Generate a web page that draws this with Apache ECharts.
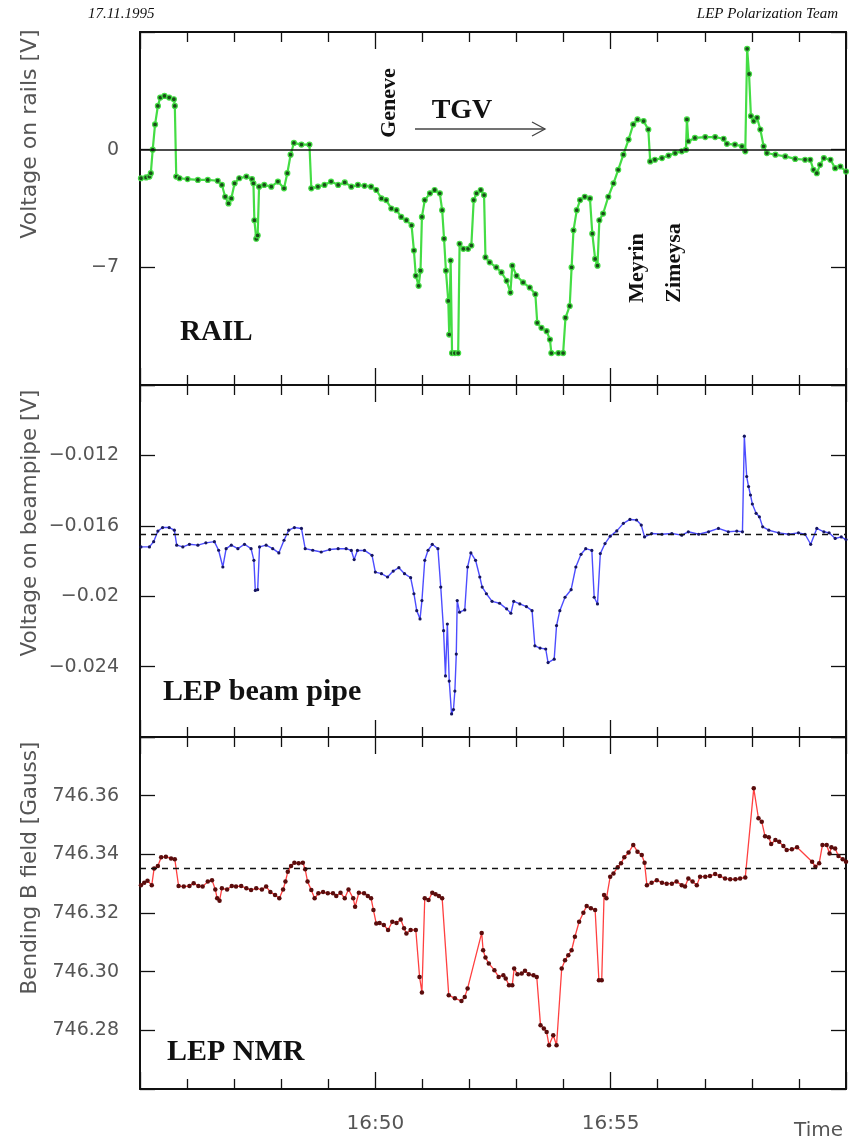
<!DOCTYPE html>
<html><head><meta charset="utf-8">
<script src="https://cdn.jsdelivr.net/npm/echarts@6/dist/echarts.min.js"></script>
<style>html,body{margin:0;padding:0;background:#fff}#chart{width:853px;height:1141px}</style>
</head><body><div id="chart"></div>
<script>
// ---- time axis: minutes after 16:45 ----
const xTickValues = [5, 10];
const xTickLabels = ['16:50', '16:55'];

// ---- panel 1: voltage on rails [V] ----
const railTime = [0.02,0.13,0.20,0.23,0.27,0.32,0.38,0.43,0.52,0.62,
0.72,0.74,0.77,0.84,1.01,1.23,1.44,1.65,1.74,1.81,
1.88,1.94,2.01,2.11,2.26,2.38,2.41,2.43,2.47,2.50,
2.53,2.64,2.79,2.93,3.06,3.13,3.20,3.27,3.43,3.60,
3.64,3.78,3.92,4.06,4.21,4.35,4.49,4.63,4.77,4.91,
5.02,5.13,5.23,5.34,5.45,5.55,5.66,5.77,5.82,5.86,
5.92,5.96,5.99,6.05,6.16,6.26,6.37,6.42,6.46,6.50,
6.55,6.57,6.60,6.63,6.69,6.76,6.79,6.87,6.97,7.04,
7.09,7.15,7.24,7.31,7.34,7.43,7.57,7.68,7.79,7.87,
7.91,8.00,8.14,8.28,8.40,8.44,8.53,8.64,8.71,8.74,
8.89,8.99,9.04,9.13,9.17,9.21,9.28,9.35,9.45,9.56,
9.61,9.67,9.72,9.76,9.84,9.95,10.06,10.16,10.27,10.38,
10.48,10.57,10.70,10.80,10.84,10.94,11.09,11.23,11.37,11.51,
11.60,11.62,11.65,11.79,12.01,12.22,12.40,12.47,12.64,12.79,
12.86,12.90,12.94,12.98,13.04,13.11,13.18,13.25,13.32,13.50,
13.71,13.92,14.13,14.24,14.31,14.38,14.45,14.53,14.67,14.77,
14.88,15.00];
const railVolt = [-1.7,-1.65,-1.6,-1.4,0.0,1.5,2.6,3.1,3.2,3.1,
3.0,2.6,-1.6,-1.7,-1.75,-1.8,-1.8,-1.85,-2.1,-2.8,
-3.2,-2.9,-2.0,-1.7,-1.6,-1.75,-2.0,-4.2,-5.3,-5.1,
-2.2,-2.1,-2.2,-1.9,-2.3,-1.4,-0.3,0.4,0.3,0.3,
-2.3,-2.2,-2.1,-1.9,-2.1,-1.95,-2.2,-2.1,-2.15,-2.2,
-2.4,-2.9,-3.0,-3.5,-3.6,-4.0,-4.2,-4.5,-6.0,-7.5,
-8.1,-7.2,-4.0,-3.0,-2.6,-2.4,-2.6,-3.6,-5.3,-7.2,
-9.0,-11.0,-6.6,-12.1,-12.1,-12.1,-5.6,-5.9,-5.9,-5.7,
-3.0,-2.6,-2.4,-2.7,-6.4,-6.7,-7.0,-7.3,-7.8,-8.5,
-6.9,-7.5,-7.9,-8.2,-8.6,-10.3,-10.6,-10.8,-11.3,-12.1,
-12.1,-12.1,-10.0,-9.3,-7.0,-4.8,-3.6,-3.0,-2.8,-2.9,
-5.0,-6.5,-6.9,-4.2,-3.8,-2.8,-2.0,-1.2,-0.3,0.6,
1.5,1.8,1.7,1.2,-0.7,-0.6,-0.5,-0.35,-0.2,-0.1,
0.0,1.8,0.5,0.7,0.75,0.75,0.65,0.35,0.3,0.2,
-0.1,6.0,4.5,2.0,1.7,1.9,1.2,0.2,-0.2,-0.3,
-0.4,-0.55,-0.6,-0.6,-1.2,-1.4,-0.9,-0.5,-0.6,-1.1,
-1.0,-1.3];
const railYTicks = [-7, 0];
const railYLabels = ['\u22127', '0'];

// ---- panel 2: voltage on beampipe [V] ----
const pipeTime = [0.02,0.20,0.29,0.38,0.48,0.62,0.73,0.78,0.91,1.05,
1.23,1.40,1.58,1.67,1.76,1.83,1.94,2.08,2.22,2.36,
2.42,2.45,2.50,2.54,2.68,2.82,2.95,3.06,3.16,3.28,
3.43,3.51,3.67,3.85,4.03,4.21,4.38,4.49,4.55,4.62,
4.77,4.93,5.00,5.13,5.26,5.38,5.50,5.62,5.75,5.82,
5.88,5.95,5.99,6.05,6.12,6.21,6.33,6.39,6.45,6.49,
6.53,6.57,6.62,6.66,6.69,6.72,6.74,6.79,6.90,6.96,
7.03,7.13,7.22,7.27,7.36,7.48,7.64,7.79,7.88,7.94,
8.07,8.21,8.33,8.39,8.50,8.62,8.67,8.80,8.85,8.92,
9.03,9.16,9.26,9.37,9.47,9.60,9.65,9.72,9.78,9.88,
9.99,10.13,10.27,10.41,10.55,10.65,10.72,10.87,11.09,11.30,
11.51,11.65,11.87,12.08,12.29,12.50,12.68,12.80,12.84,12.89,
12.93,12.97,13.01,13.09,13.16,13.23,13.36,13.57,13.78,13.99,
14.13,14.25,14.38,14.53,14.64,14.77,14.90,15.00];
const pipeVolt = [-0.0172,-0.0172,-0.0169,-0.0163,-0.0161,-0.0161,-0.01625,-0.0171,-0.0172,-0.01705,
-0.0171,-0.01697,-0.0169,-0.01739,-0.01834,-0.0173,-0.0171,-0.0173,-0.01705,-0.0173,
-0.01796,-0.01967,-0.01963,-0.0172,-0.0171,-0.0173,-0.01754,-0.01682,-0.01625,-0.0161,
-0.01615,-0.0173,-0.01739,-0.01749,-0.01735,-0.0173,-0.0173,-0.0174,-0.01792,-0.0174,
-0.0174,-0.01768,-0.01863,-0.01872,-0.01891,-0.01857,-0.01838,-0.01872,-0.01895,-0.01986,
-0.02082,-0.02129,-0.02025,-0.01796,-0.01739,-0.01705,-0.0173,-0.01948,-0.02196,-0.02453,
-0.02158,-0.02482,-0.02669,-0.02644,-0.02539,-0.02329,-0.02025,-0.02091,-0.02078,-0.01834,
-0.01754,-0.01796,-0.01891,-0.01948,-0.01986,-0.02029,-0.0204,-0.02072,-0.02097,-0.02029,
-0.02044,-0.02059,-0.02082,-0.02282,-0.02295,-0.023,-0.02377,-0.02358,-0.02167,-0.02082,
-0.02006,-0.01963,-0.01834,-0.01762,-0.0173,-0.0174,-0.02006,-0.02044,-0.01758,-0.01701,
-0.01659,-0.01629,-0.01586,-0.01564,-0.01567,-0.01596,-0.01663,-0.01644,-0.01648,-0.01644,
-0.01653,-0.01634,-0.01648,-0.01634,-0.01615,-0.01634,-0.0163,-0.01634,-0.01091,-0.0132,
-0.01377,-0.01425,-0.01476,-0.01529,-0.01549,-0.01606,-0.01625,-0.0164,-0.01648,-0.0164,
-0.01648,-0.01705,-0.01615,-0.01634,-0.0164,-0.01672,-0.01663,-0.01678];
const pipeRef = -0.01647;
const pipeYTicks = [-0.024, -0.02, -0.016, -0.012];
const pipeYLabels = ['\u22120.024', '\u22120.02', '\u22120.016', '\u22120.012'];

// ---- panel 3: bending B field [Gauss] ----
const nmrTime = [0.02,0.09,0.16,0.25,0.30,0.38,0.45,0.55,0.66,0.74,
0.82,0.93,1.05,1.14,1.24,1.33,1.44,1.53,1.60,1.64,
1.69,1.74,1.85,1.95,2.04,2.15,2.26,2.36,2.47,2.59,
2.68,2.77,2.87,2.96,3.04,3.09,3.14,3.21,3.28,3.37,
3.46,3.51,3.56,3.64,3.71,3.79,3.89,3.99,4.10,4.17,
4.26,4.35,4.43,4.53,4.57,4.65,4.76,4.84,4.91,4.96,
5.02,5.09,5.18,5.27,5.36,5.45,5.54,5.61,5.66,5.75,
5.86,5.94,5.99,6.05,6.13,6.21,6.28,6.35,6.42,6.56,
6.69,6.83,6.90,6.96,7.26,7.29,7.34,7.41,7.53,7.62,
7.72,7.77,7.84,7.91,7.95,8.02,8.11,8.18,8.26,8.36,
8.43,8.51,8.58,8.64,8.69,8.78,8.85,8.96,9.03,9.10,
9.17,9.24,9.33,9.42,9.49,9.58,9.67,9.75,9.81,9.86,
9.91,9.99,10.06,10.15,10.22,10.29,10.38,10.48,10.57,10.66,
10.72,10.77,10.87,10.98,11.09,11.19,11.30,11.40,11.51,11.58,
11.65,11.74,11.83,11.90,12.01,12.11,12.22,12.32,12.43,12.54,
12.65,12.75,12.86,13.04,13.14,13.21,13.28,13.36,13.41,13.50,
13.58,13.67,13.74,13.85,13.96,14.28,14.35,14.43,14.50,14.59,
14.65,14.69,14.77,14.84,14.93,15.00];
const nmrField = [746.3295,746.3303,746.331,746.3295,746.3352,746.336,746.339,746.3392,746.3386,746.3383,
746.3292,746.329,746.3292,746.3301,746.3292,746.329,746.3307,746.3312,746.328,746.325,
746.3242,746.3284,746.328,746.3292,746.329,746.3292,746.3284,746.3278,746.3284,746.328,
746.329,746.3272,746.3261,746.325,746.328,746.3307,746.3341,746.336,746.3371,746.337,
746.3371,746.3349,746.3307,746.3278,746.325,746.3267,746.3272,746.3267,746.3267,746.3258,
746.3269,746.325,746.328,746.325,746.3221,746.3269,746.3267,746.3258,746.325,746.321,
746.3164,746.3166,746.3159,746.3142,746.317,746.3166,746.3178,746.3148,746.313,746.3142,
746.3142,746.2982,746.2929,746.325,746.3244,746.3269,746.3264,746.3258,746.325,746.292,
746.2909,746.29,746.2914,746.2943,746.3132,746.3073,746.3048,746.3028,746.3005,746.2982,
746.2988,746.2977,746.2954,746.2954,746.3011,746.2991,746.2994,746.3003,746.2991,746.2988,
746.2982,746.2817,746.2806,746.2794,746.2749,746.2783,746.2749,746.3011,746.3039,746.3056,
746.3073,746.3119,746.317,746.3201,746.3224,746.3216,746.321,746.2971,746.2971,746.3261,
746.325,746.3324,746.3335,746.3356,746.337,746.339,746.3406,746.3432,746.3409,746.3398,
746.3371,746.3295,746.3303,746.3312,746.3303,746.33,746.33,746.3307,746.3295,746.329,
746.3318,746.3307,746.3295,746.3324,746.3324,746.3326,746.3333,746.3326,746.3318,746.3315,
746.3315,746.3318,746.3321,746.3625,746.3523,746.3511,746.3462,746.3458,746.3435,746.3449,
746.3443,746.3428,746.3415,746.3417,746.3424,746.3375,746.3358,746.337,746.3432,746.3432,
746.3403,746.3424,746.342,746.3394,746.3383,746.3375];
const nmrRef = 746.3352;
const nmrYTicks = [746.28, 746.30, 746.32, 746.34, 746.36];
const nmrYLabels = ['746.28', '746.30', '746.32', '746.34', '746.36'];

// ---------------------------------------------------------------
const FONT = 'DejaVu Sans';
const SERIF = '"Liberation Serif", "DejaVu Serif", serif';
const INK = '#111';
const GREY = '#555';
const PANELS = [
  {top: 32, height: 353, min: -14, max: 7, interval: 7, ticks: railYTicks, labels: railYLabels},
  {top: 385, height: 352, min: -0.028, max: -0.008, interval: 0.004, ticks: pipeYTicks, labels: pipeYLabels},
  {top: 737, height: 352, min: 746.26, max: 746.38, interval: 0.02, ticks: nmrYTicks, labels: nmrYLabels}
];
const GRID_LEFT = 140, GRID_W = 706;

function lookup(ticks, labels, tol) {
  return function (v) {
    for (let i = 0; i < ticks.length; i++) if (Math.abs(v - ticks[i]) < tol) return labels[i];
    return '';
  };
}

const grid = [], xAxis = [], yAxis = [];
PANELS.forEach((p, gi) => {
  grid.push({left: GRID_LEFT, width: GRID_W, top: p.top, height: p.height, containLabel: false});
  const xBase = {
    type: 'value', gridIndex: gi, min: 0, max: 15, interval: 5,
    axisLine: {show: true, onZero: false, lineStyle: {color: INK, width: 2}},
    axisTick: {show: true, inside: true, length: 17, lineStyle: {color: INK, width: 1.3}},
    minorTick: {show: true, splitNumber: 5, length: 10, lineStyle: {color: INK, width: 1.3}},
    splitLine: {show: false}, minorSplitLine: {show: false}
  };
  xAxis.push(Object.assign({}, xBase, {
    position: 'bottom',
    axisLabel: gi === 2 ? {
      show: true, margin: 25, color: GREY, fontFamily: FONT, fontSize: 20,
      formatter: lookup(xTickValues, xTickLabels, 1e-6)
    } : {show: false}
  }));
  xAxis.push(Object.assign({}, xBase, {position: 'top', axisLabel: {show: false}}));
  const yBase = {
    type: 'value', gridIndex: gi, min: p.min, max: p.max, interval: p.interval,
    axisLine: {show: true, onZero: false, lineStyle: {color: INK, width: 2}},
    axisTick: {show: true, inside: true, length: 15, lineStyle: {color: INK, width: 1.3}},
    splitLine: {show: false}
  };
  yAxis.push(Object.assign({}, yBase, {
    position: 'left',
    axisLabel: {show: true, margin: 21, color: GREY, fontFamily: FONT, fontSize: 19,
      formatter: lookup(p.ticks, p.labels, p.interval * 1e-3)}
  }));
  yAxis.push(Object.assign({}, yBase, {position: 'right', axisLabel: {show: false}}));
});

function zip(a, b) { return a.map((t, i) => [t, b[i]]); }

function refLine(v, dashed) {
  return {
    silent: true, symbol: ['none', 'none'], label: {show: false}, precision: 8,
    lineStyle: {color: INK, width: dashed ? 1.3 : 1.6, type: dashed ? [6, 5] : 'solid'},
    emphasis: {disabled: true},
    data: [{yAxis: v}]
  };
}

const series = [
  {
    name: 'rail', type: 'line', xAxisIndex: 0, yAxisIndex: 0,
    data: zip(railTime, railVolt), symbol: 'circle', symbolSize: 5, showSymbol: true,
    lineStyle: {color: '#44dd44', width: 2.2},
    itemStyle: {color: '#1a4d1a', borderColor: '#44dd44', borderWidth: 1.2},
    markLine: refLine(0, false), z: 3
  },
  {
    name: 'pipe', type: 'line', xAxisIndex: 2, yAxisIndex: 2,
    data: zip(pipeTime, pipeVolt), symbol: 'circle', symbolSize: 3.2, showSymbol: true,
    lineStyle: {color: '#4d4dff', width: 1.4},
    itemStyle: {color: '#151560', borderWidth: 0},
    markLine: refLine(pipeRef, true), z: 3
  },
  {
    name: 'nmr', type: 'line', xAxisIndex: 4, yAxisIndex: 4,
    data: zip(nmrTime, nmrField), symbol: 'circle', symbolSize: 4.5, showSymbol: true,
    lineStyle: {color: '#ff4040', width: 1.3},
    itemStyle: {color: '#5a0c0c', borderWidth: 0},
    markLine: refLine(nmrRef, true), z: 3
  }
];

function txt(x, y, text, o) {
  return Object.assign({type: 'text', x: x, y: y, silent: true, z: 100,
    style: {text: text, fill: o.fill || INK, font: o.font,
      align: o.align || 'left', verticalAlign: o.va || 'middle',
      textAlign: o.align || 'left', textVerticalAlign: o.va || 'middle'}},
    o.rot ? {rotation: o.rot} : {});
}

const R90 = Math.PI / 2;
const graphic = [
  txt(88, 14, '17.11.1995', {font: 'italic 15px ' + SERIF}),
  txt(838, 14, 'LEP Polarization Team', {font: 'italic 15px ' + SERIF, align: 'right'}),
  txt(30, 134, 'Voltage on rails [V]', {font: '22px "' + FONT + '"', fill: GREY, align: 'center', rot: R90}),
  txt(30, 523, 'Voltage on beampipe [V]', {font: '21.5px "' + FONT + '"', fill: GREY, align: 'center', rot: R90}),
  txt(30, 868, 'Bending B field [Gauss]', {font: '21.5px "' + FONT + '"', fill: GREY, align: 'center', rot: R90}),
  txt(180, 333, 'RAIL', {font: 'bold 29px ' + SERIF}),
  txt(163, 692, 'LEP beam pipe', {font: 'bold 30px ' + SERIF}),
  txt(167, 1052, 'LEP NMR', {font: 'bold 30px ' + SERIF}),
  txt(462, 111, 'TGV', {font: 'bold 28px ' + SERIF, align: 'center'}),
  txt(389, 103, 'Geneve', {font: 'bold 22px ' + SERIF, align: 'center', rot: R90}),
  txt(637, 268, 'Meyrin', {font: 'bold 22px ' + SERIF, align: 'center', rot: R90}),
  txt(674, 263, 'Zimeysa', {font: 'bold 22px ' + SERIF, align: 'center', rot: R90}),
  txt(843, 1131, 'Time', {font: '20px "' + FONT + '"', fill: GREY, align: 'right'}),
  {type: 'polyline', silent: true, z: 100, shape: {points: [[415, 129], [545, 129]]},
   style: {stroke: '#444', lineWidth: 1.3, fill: null}},
  {type: 'polyline', silent: true, z: 100, shape: {points: [[532, 122], [545, 129], [532, 136]]},
   style: {stroke: '#444', lineWidth: 1.3, fill: null}}
];

const chart = echarts.init(document.getElementById('chart'), null, {renderer: 'canvas'});
chart.setOption({
  animation: false,
  backgroundColor: '#fff',
  grid: grid, xAxis: xAxis, yAxis: yAxis, series: series, graphic: graphic
});
</script>
</body></html>
